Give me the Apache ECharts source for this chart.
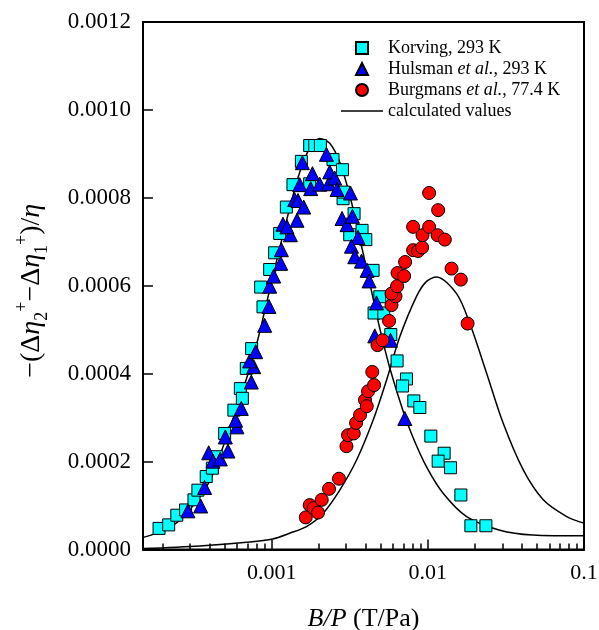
<!DOCTYPE html>
<html>
<head>
<meta charset="utf-8">
<script src="https://cdn.jsdelivr.net/npm/echarts@6/dist/echarts.min.js"></script>
<style>html,body{margin:0;padding:0;background:#fff}#c{width:599px;height:630px}</style>
</head>
<body>
<div id="c"></div>
<script>
// ---- data ----
const xTickValues = [0.001, 0.01, 0.1];
const xMinorTickValues = [0.0002,0.0003,0.0004,0.0005,0.0006,0.0007,0.0008,0.0009,
  0.002,0.003,0.004,0.005,0.006,0.007,0.008,0.009,
  0.02,0.03,0.04,0.05,0.06,0.07,0.08,0.09];
const yTickValues = [0, 0.0002, 0.0004, 0.0006, 0.0008, 0.0010, 0.0012];

const korvingX = [0.00019,0.000219,0.000247,0.000281,0.000318,0.000337,0.000381,0.000417,0.000446,0.0005,
  0.000573,0.00063,0.000649,0.000688,0.000744,0.00085,0.00088,0.000971,0.001045,0.001125,
  0.001242,0.001369,0.00155,0.001752,0.001887,0.002052,0.001752,0.002471,0.00284,0.002865,
  0.002894,0.003162,0.00337,0.003792,0.004006,0.004461,0.004924,0.004527,0.005224,0.005792,
  0.006357,0.007302,0.006884,0.008133,0.008887,0.010452,0.012719,0.011644,0.013978,0.016275,
  0.018866,0.023541];
const korvingY = [0.000048,0.000056,0.000078,0.00009,0.000113,0.000135,0.000166,0.000185,0.000211,0.000264,
  0.000317,0.000366,0.000344,0.000412,0.000457,0.000597,0.000552,0.000637,0.000675,0.000719,
  0.000779,0.00083,0.000883,0.000919,0.000919,0.000919,0.000832,0.000887,0.000864,0.000798,
  0.000813,0.000716,0.000764,0.000726,0.000705,0.000635,0.000575,0.000538,0.000538,0.000489,
  0.000429,0.000388,0.000372,0.000338,0.000323,0.000258,0.000219,0.000201,0.000186,0.000124,
  0.000054,0.000054];

const hulsmanX = [0.000291,0.000351,0.000372,0.000395,0.000421,0.000469,0.000525,0.000505,0.000599,0.000588,
  0.000639,0.000741,0.000767,0.000723,0.00079,0.000902,0.000961,0.000971,0.00103,0.001142,
  0.001154,0.001318,0.001181,0.001253,0.001453,0.001404,0.001474,0.001604,0.001512,0.001573,
  0.001778,0.001824,0.002031,0.002242,0.002319,0.002354,0.002534,0.002622,0.003195,0.002823,
  0.003039,0.003291,0.003574,0.003243,0.003405,0.003758,0.004083,0.004205,0.00469,0.004574,
  0.005767,0.007121];
const hulsmanY = [0.000088,0.000099,0.000141,0.00022,0.000201,0.000206,0.000224,0.000256,0.000279,0.000294,
  0.000321,0.000381,0.000416,0.000429,0.00045,0.00051,0.000553,0.000599,0.000622,0.000651,
  0.000682,0.000716,0.00074,0.000734,0.000749,0.000796,0.000794,0.000779,0.00083,0.00088,
  0.000821,0.000855,0.000831,0.000899,0.000832,0.000859,0.000845,0.000819,0.000811,0.000753,
  0.000739,0.000758,0.00071,0.00069,0.000666,0.000656,0.000635,0.000611,0.000561,0.000486,
  0.000476,0.000298];

const burgmansX = [0.001652,0.001752,0.001859,0.001981,0.002092,0.00233,0.002697,0.003012,0.003084,0.003355,
  0.003471,0.003681,0.003958,0.004064,0.004143,0.004409,0.004527,0.00476,0.005125,0.005648,
  0.005853,0.006209,0.005853,0.006357,0.006395,0.007049,0.007153,0.008049,0.008665,0.00919,
  0.009247,0.008049,0.010193,0.011539,0.012853,0.010193,0.011644,0.014186,0.016275,0.017971];
const burgmansY = [0.000073,0.000101,0.000094,0.000084,0.000113,0.000138,0.000161,0.000235,0.00026,0.000264,
  0.000288,0.000306,0.00034,0.000326,0.00036,0.000404,0.000374,0.000465,0.000476,0.00052,
  0.000556,0.000576,0.000582,0.000599,0.000629,0.000622,0.000654,0.000681,0.000679,0.000687,
  0.000715,0.000734,0.000734,0.000715,0.000705,0.000811,0.000772,0.000639,0.000614,0.000514];

const calc1X = [0.000149,0.00018,0.000242,0.000289,0.000346,0.000413,0.0005,0.000597,0.000702,0.000813,
  0.000943,0.001093,0.001304,0.001512,0.001752,0.002031,0.002354,0.002729,0.003162,0.003665,
  0.004249,0.004924,0.005707,0.006916,0.008013,0.009811,0.01253,0.01771,0.02894,0.0471,0.1];
const calc1Y = [0.000027,0.000036,0.000059,0.000085,0.000119,0.000165,0.000244,0.000322,0.000397,0.000476,
  0.000572,0.000667,0.000776,0.000858,0.000913,0.000935,0.000924,0.000881,0.000806,0.000708,
  0.000606,0.000503,0.000413,0.000317,0.000256,0.000188,0.000128,0.000075,0.000044,0.000033,0.000031];

const calc2X = [0.000149,0.000346,0.000723,0.001015,0.001304,0.001669,0.002132,0.002729,0.003491,0.004461,
  0.005437,0.006614,0.008465,0.009811,0.01137,0.01528,0.01858,0.02379,0.03039,0.04083,
  0.05484,0.07747,0.1];
const calc2Y = [0.000002,0.000008,0.000017,0.000024,0.000037,0.000052,0.000082,0.000135,0.000203,0.000294,
  0.000385,0.000484,0.000576,0.00061,0.00062,0.000582,0.000514,0.000401,0.000287,0.000181,
  0.000113,0.000075,0.00006];

const seriesNames = ['Korving, 293 K', 'Hulsman et al., 293 K', 'Burgmans et al., 77.4 K', 'calculated values'];

// ---- build ----
const zip = (xs, ys) => xs.map((x, i) => [x, ys[i]]);
const FONT = 'Liberation Serif';
const X_MIN = 0.00015, X_MAX = 0.1;

const chart = echarts.init(document.getElementById('c'), null, {renderer: 'canvas'});

function legendFmt(name) {
  const m = name.match(/^(\S+) et al\.(.*)$/);
  if (m) return '{n|' + m[1] + ' }{i|et al.}{n|' + m[2] + '}';
  return '{n|' + name + '}';
}

const legendIcons = [
  'path://M0,0H10V10H0Z',
  'path://M5,0L10,10L0,10Z',
  'circle',
  'path://M0,0H42V1.5H0Z'
];

const option = {
  backgroundColor: '#fff',
  animation: false,
  textStyle: {fontFamily: FONT, color: '#000'},
  grid: {
    left: 143, right: 15, top: 22, bottom: 80.5,
    show: true, borderColor: '#000', borderWidth: 2, backgroundColor: 'transparent',
    outerBoundsMode: 'none'
  },
  legend: {
    data: seriesNames.map((n, i) => ({name: n, icon: legendIcons[i]})),
    orient: 'vertical',
    left: 336, top: 33,
    itemWidth: 42, itemHeight: 12, itemGap: 1,
    symbolKeepAspect: true,
    selectedMode: false,
    formatter: legendFmt,
    textStyle: {
      fontFamily: FONT, fontSize: 18, color: '#000', lineHeight: 20,
      rich: {
        n: {fontFamily: FONT, fontSize: 18, color: '#000'},
        i: {fontFamily: FONT, fontSize: 18, fontStyle: 'italic', color: '#000'}
      }
    }
  },
  xAxis: [{
    type: 'log', logBase: 10, min: X_MIN, max: X_MAX,
    position: 'bottom',
    name: '{i|B}{i|/}{i|P}{n| (T/Pa)}',
    nameLocation: 'middle', nameGap: 57,
    nameTextStyle: {
      rich: {
        i: {fontFamily: FONT, fontSize: 26, fontStyle: 'italic', color: '#000'},
        n: {fontFamily: FONT, fontSize: 26, color: '#000'}
      }
    },
    axisLine: {show: true, onZero: false, lineStyle: {color: '#000', width: 2}},
    axisTick: {show: true, inside: true, length: 10, customValues: xTickValues, lineStyle: {color: '#000', width: 1.5}},
    axisLabel: {show: true, customValues: xTickValues, margin: 13, fontFamily: FONT, fontSize: 22, color: '#000',
      formatter: v => String(v)},
    splitLine: {show: false},
    minorTick: {show: false}
  }, {
    type: 'log', logBase: 10, min: X_MIN, max: X_MAX,
    position: 'bottom', gridIndex: 0,
    axisLine: {show: false},
    axisTick: {show: true, inside: true, length: 6, customValues: xMinorTickValues, lineStyle: {color: '#000', width: 1.5}},
    axisLabel: {show: false},
    splitLine: {show: false}
  }],
  yAxis: {
    type: 'value', min: 0, max: 0.0012, interval: 0.0002,
    name: '{n|−(Δ}{i|η}{sb|2}{sp|+}{n|−Δ}{i|η}{sb|1}{sp|+}{n|)/}{i|η}',
    nameLocation: 'middle', nameGap: 92, nameRotate: 90,
    nameTextStyle: {
      padding: [0, 10, 0, 0],
      rich: {
        n: {fontFamily: FONT, fontSize: 28, color: '#000', lineHeight: 38},
        i: {fontFamily: FONT, fontSize: 28, fontStyle: 'italic', color: '#000', lineHeight: 38},
        sb: {fontFamily: FONT, fontSize: 18, color: '#000', lineHeight: 18, verticalAlign: 'bottom'},
        sp: {fontFamily: FONT, fontSize: 18, color: '#000', lineHeight: 18, verticalAlign: 'top'}
      }
    },
    axisLine: {show: true, lineStyle: {color: '#000', width: 2}},
    axisTick: {show: true, inside: true, length: 10, lineStyle: {color: '#000', width: 1.5}},
    axisLabel: {margin: 12, fontFamily: FONT, fontSize: 23, color: '#000',
      formatter: v => v.toFixed(4)},
    splitLine: {show: false}
  },
  series: [
    {
      name: seriesNames[3], type: 'line', xAxisIndex: 0, data: zip(calc1X, calc1Y),
      smooth: 0.3, showSymbol: false, symbol: 'none', z: 2,
      lineStyle: {color: '#000', width: 1.5}, itemStyle: {color: '#000'}
    },
    {
      name: seriesNames[3], type: 'line', xAxisIndex: 0, data: zip(calc2X, calc2Y),
      smooth: 0.3, showSymbol: false, symbol: 'none', z: 2,
      lineStyle: {color: '#000', width: 1.5}, itemStyle: {color: '#000'}
    },
    {
      name: seriesNames[0], type: 'scatter', xAxisIndex: 0, data: zip(korvingX, korvingY),
      symbol: 'rect', symbolSize: 12, z: 3,
      itemStyle: {color: '#00ffff', borderColor: '#000', borderWidth: 1, opacity: 1}
    },
    {
      name: seriesNames[1], type: 'scatter', xAxisIndex: 0, data: zip(hulsmanX, hulsmanY),
      symbol: 'triangle', symbolSize: 14, z: 4,
      itemStyle: {color: '#0000ff', borderColor: '#000', borderWidth: 1, opacity: 1}
    },
    {
      name: seriesNames[2], type: 'scatter', xAxisIndex: 0, data: zip(burgmansX, burgmansY),
      symbol: 'circle', symbolSize: 13, z: 5,
      itemStyle: {color: '#ff0000', borderColor: '#000', borderWidth: 1, opacity: 1}
    }
  ]
};
chart.setOption(option);
</script>
</body>
</html>
